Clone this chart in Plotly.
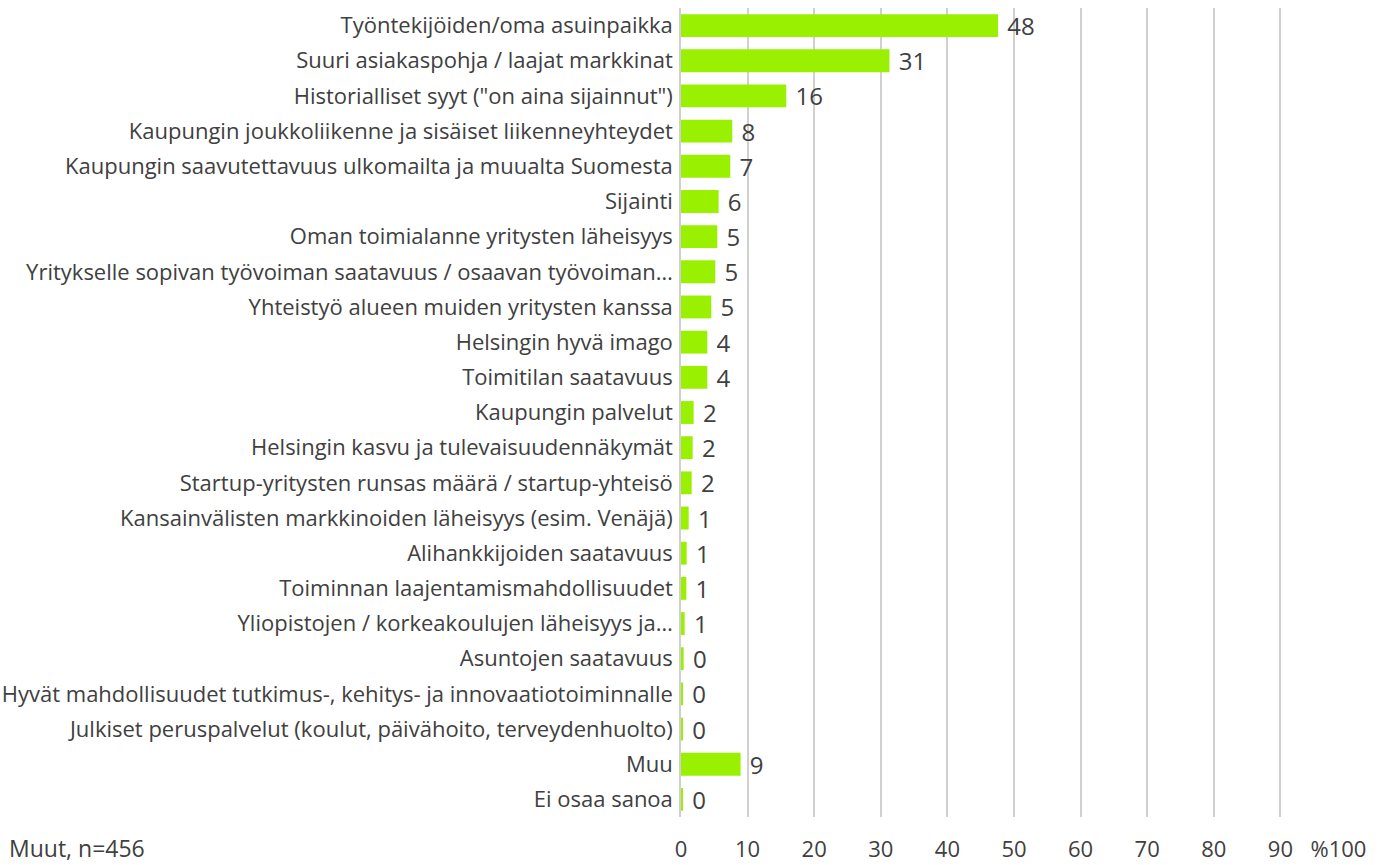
import plotly.graph_objects as go

categories = [
    "Työntekijöiden/oma asuinpaikka",
    "Suuri asiakaspohja / laajat markkinat",
    "Historialliset syyt (\"on aina sijainnut\")",
    "Kaupungin joukkoliikenne ja sisäiset liikenneyhteydet",
    "Kaupungin saavutettavuus ulkomailta ja muualta Suomesta",
    "Sijainti",
    "Oman toimialanne yritysten läheisyys",
    "Yritykselle sopivan työvoiman saatavuus / osaavan työvoiman…",
    "Yhteistyö alueen muiden yritysten kanssa",
    "Helsingin hyvä imago",
    "Toimitilan saatavuus",
    "Kaupungin palvelut",
    "Helsingin kasvu ja tulevaisuudennäkymät",
    "Startup-yritysten runsas määrä / startup-yhteisö",
    "Kansainvälisten markkinoiden läheisyys (esim. Venäjä)",
    "Alihankkijoiden saatavuus",
    "Toiminnan laajentamismahdollisuudet",
    "Yliopistojen / korkeakoulujen läheisyys ja…",
    "Asuntojen saatavuus",
    "Hyvät mahdollisuudet tutkimus-, kehitys- ja innovaatiotoiminnalle",
    "Julkiset peruspalvelut (koulut, päivähoito, terveydenhuolto)",
    "Muu",
    "Ei osaa sanoa",
]
values = [47.6, 31.3, 15.8, 7.7, 7.4, 5.65, 5.45, 5.15, 4.55, 3.95, 3.95,
          1.9, 1.75, 1.6, 1.15, 0.85, 0.8, 0.55, 0.4, 0.2, 0.2, 8.95, 0.2]
labels = ["48", "31", "16", "8", "7", "6", "5", "5", "5", "4", "4",
          "2", "2", "2", "1", "1", "1", "1", "0", "0", "0", "9", "0"]
tick_vals = [0, 10, 20, 30, 40, 50, 60, 70, 80, 90, 100]
tick_text = ["0", "10", "20", "30", "40", "50", "60", "70", "80", "90",
             "%100\u00a0\u00a0\u00a0"]

FONT = "Open Sans"
TXT = "#404040"

W, H = 1385, 865
ML, MR, MT, MB = 681, 38, 8, 48
PW = W - ML - MR

fig = go.Figure(go.Bar(
    x=values, y=categories, orientation="h",
    marker=dict(color="#99F000", line=dict(width=0)),
    text=labels, texttemplate=" %{text}", textposition="outside",
    constraintext="none",
    textfont=dict(family=FONT, size=24, color=TXT),
    cliponaxis=False, hoverinfo="skip",
))

fig.update_layout(
    width=W, height=H,
    margin=dict(l=ML, r=MR, t=MT, b=MB, autoexpand=False),
    paper_bgcolor="white", plot_bgcolor="white",
    bargap=0.35, showlegend=False,
    font=dict(family=FONT, size=22, color=TXT),
    annotations=[dict(text="Muut, n=456", xref="paper", yref="paper",
                      x=(8 - ML) / PW, y=0, xanchor="left", yanchor="middle",
                      yshift=-31, showarrow=False, borderpad=0,
                      font=dict(family=FONT, size=23, color=TXT))],
)

fig.update_xaxes(range=[0, 100], tickvals=tick_vals, ticktext=tick_text,
                 showgrid=True, gridcolor="#D0D0D0", gridwidth=1.5,
                 zeroline=False, showline=False,
                 ticks="outside", ticklen=13, tickcolor="rgba(0,0,0,0)",
                 tickfont=dict(family=FONT, size=22, color=TXT), automargin=False)
fig.update_yaxes(autorange="reversed", showgrid=False, zeroline=False,
                 showline=True, linecolor="#D0D0D0", linewidth=1.5,
                 ticks="outside", ticklen=2, tickcolor="rgba(0,0,0,0)",
                 tickfont=dict(family=FONT, size=22, color=TXT), automargin=False)

fig.write_html("out.html", config={"displayModeBar": False},
               post_script="document.body.style.margin='0';document.body.style.overflow='hidden';")
